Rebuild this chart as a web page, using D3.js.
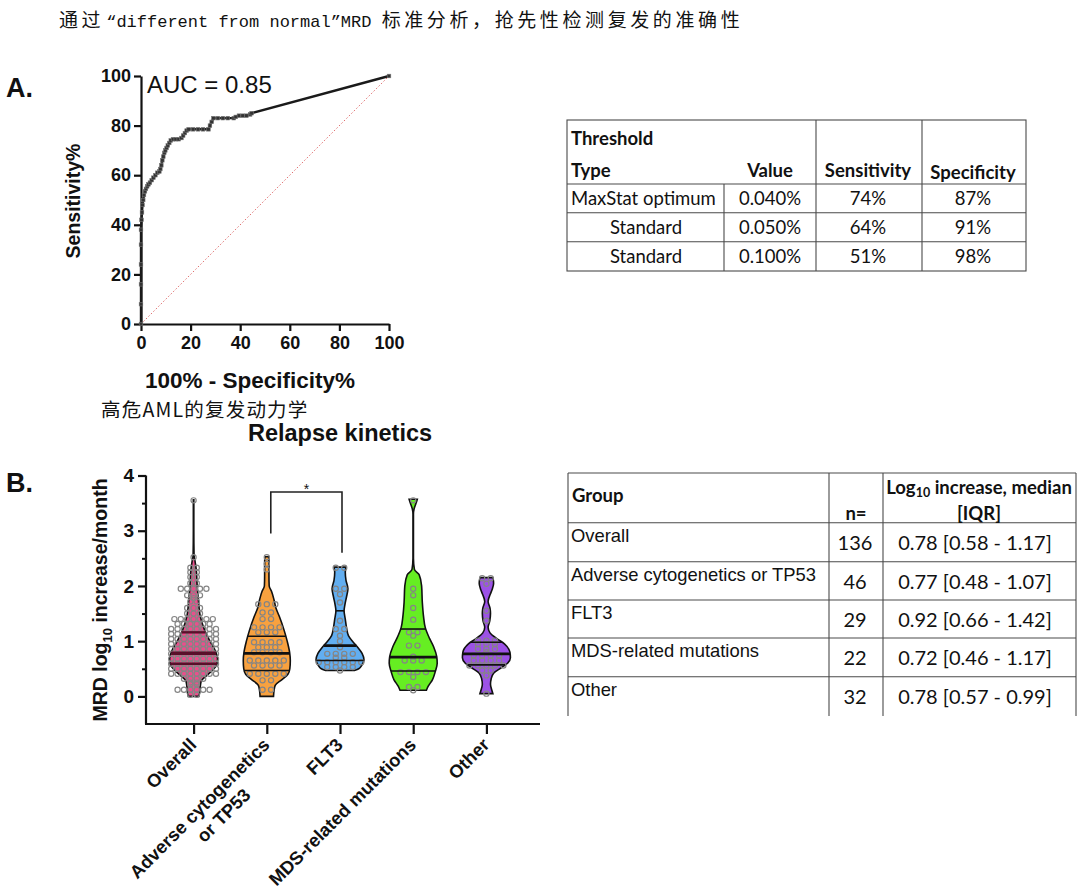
<!DOCTYPE html>
<html><head><meta charset="utf-8">
<script src="https://cdn.jsdelivr.net/npm/d3@7"></script>
<style>body{margin:0;background:#fff}svg{display:block}</style>
</head><body>
<svg id="c" width="1080" height="895"></svg>
<script>
// ---------------- DATA ----------------
const titleParts = ["通过","“different from normal”MRD ","标准分析，抢先性检测复发的准确性"];
const subtitleB = "高危AML的复发动力学";
const chartTitleB = "Relapse kinetics";

// ROC curve (x = 100% - Specificity%, y = Sensitivity%)
const rocFPR = [0,0,0,0,0,0,0.2,0.4,0.6,0.9,1.2,1.6,2.0,2.5,3.0,3.6,4.3,5.0,5.8,6.6,7.4,7.8,8.2,8.6,9.0,9.4,9.8,10.3,10.8,11.4,12.0,12.9,14.0,15.2,16.3,17.0,17.7,18.4,19.2,21,23,25,27.2,27.8,28.5,29.2,31,33,35,37.4,38.2,39.5,41,42.5,44,44.6,100];
const rocTPR = [0,8,16,24,32,38,42,45,48,50,52,53.5,54.5,55.5,56.3,57,58,59,60,61,61.5,62.5,64,66,67.5,69,70,71,72,73,74,74.5,74.5,74.5,75,76,77,78,78.5,78.5,78.5,78.5,78.5,80,81.5,83,83,83,83,83,83.5,84,84,84,84.5,85,100];
const rocTicks = [0,20,40,60,80,100];
const aucLabel = "AUC = 0.85";

// Table A
const tableAHead = ["Value","Sensitivity","Specificity"];
const tableAType = ["MaxStat optimum","Standard","Standard"];
const tableAValue = ["0.040%","0.050%","0.100%"];
const tableASens = ["74%","64%","51%"];
const tableASpec = ["87%","91%","98%"];

// Violin plot
const groups = ["Overall","Adverse","FLT3","MDS","Other"];
const groupLabels = ["Overall","Adverse cytogenetics\nor TP53","FLT3","MDS-related mutations","Other"];
const violinTicks = [0,1,2,3,4];
const violinMinor = [0.5,1.5,2.5,3.5];
// density profiles: [value, relative density]
const profOverall = [[3.56,0.01],[3.0,0.01],[2.55,0.02],[2.45,0.06],[2.3,0.11],[2.0,0.15],[1.75,0.2],[1.45,0.28],[1.2,0.46],[1.0,0.68],[0.83,0.9],[0.68,1.0],[0.58,0.97],[0.47,0.78],[0.38,0.55],[0.28,0.32],[0.18,0.28],[0.08,0.26],[0.0,0.22]];
const profAdverse = [[2.53,0.08],[2.4,0.09],[2.2,0.09],[2.0,0.1],[1.9,0.2],[1.75,0.3],[1.6,0.38],[1.45,0.52],[1.2,0.72],[1.0,0.85],[0.8,0.95],[0.65,0.98],[0.5,0.96],[0.4,0.88],[0.3,0.62],[0.2,0.35],[0.1,0.3],[0.0,0.28]];
const profFLT3 = [[2.34,0.25],[2.25,0.22],[2.1,0.25],[1.95,0.33],[1.8,0.27],[1.65,0.2],[1.55,0.17],[1.4,0.22],[1.25,0.27],[1.1,0.35],[1.0,0.52],[0.9,0.72],[0.78,0.92],[0.66,1.0],[0.56,0.9],[0.5,0.78],[0.47,0.6]];
const profMDS = [[3.57,0.17],[3.5,0.12],[3.4,0.04],[3.3,0.01],[2.5,0.01],[2.3,0.05],[2.2,0.25],[2.0,0.35],[1.7,0.38],[1.45,0.43],[1.25,0.5],[1.05,0.68],[0.9,0.85],[0.72,0.98],[0.6,1.0],[0.45,0.92],[0.3,0.8],[0.18,0.62],[0.11,0.55]];
const profOther = [[2.15,0.27],[2.05,0.3],[1.95,0.25],[1.85,0.16],[1.72,0.07],[1.6,0.15],[1.5,0.17],[1.37,0.14],[1.25,0.07],[1.15,0.15],[1.05,0.42],[0.95,0.75],[0.8,0.98],[0.7,1.0],[0.6,0.88],[0.5,0.55],[0.42,0.3],[0.32,0.2],[0.22,0.17],[0.12,0.22],[0.05,0.27]];
// individual values (value, count)
const ptsOverall = [[3.55,1],[2.52,1],[2.33,2],[2.25,2],[2.16,2],[2.05,2],[1.95,5],[1.83,3],[1.78,1],[1.72,2],[1.6,3],[1.5,3],[1.4,7],[1.31,6],[1.22,8],[1.13,8],[1.04,8],[0.95,8],[0.86,8],[0.77,8],[0.68,8],[0.59,8],[0.5,8],[0.41,8],[0.32,4],[0.25,2],[0.22,2],[0.12,6],[0.03,2]];
const ptsAdverse = [[2.52,1],[2.4,1],[2.3,1],[1.67,3],[1.52,2],[1.4,2],[1.25,4],[1.16,3],[0.98,4],[0.89,3],[0.8,4],[0.65,5],[0.56,4],[0.41,5],[0.29,2],[0.12,2]];
const ptsFLT3 = [[2.33,2],[1.95,2],[1.85,1],[1.7,1],[1.37,1],[1.22,2],[1.1,1],[1.0,1],[0.89,1],[0.77,4],[0.7,2],[0.62,6],[0.53,4],[0.47,1]];
const ptsMDS = [[3.55,1],[1.95,1],[1.83,1],[1.6,1],[1.39,1],[1.16,2],[1.1,1],[0.92,2],[0.72,1],[0.65,3],[0.44,4],[0.35,1],[0.17,2],[0.11,1]];
const ptsOther = [[2.14,2],[2.04,1],[1.55,1],[1.37,1],[1.01,3],[0.95,3],[0.86,3],[0.8,1],[0.74,4],[0.65,4],[0.56,5],[0.47,2],[0.38,1],[0.05,1]];
const q1Vals = [0.59,0.47,0.65,0.46,0.57];
const medianVals = [0.78,0.78,0.92,0.71,0.77];
const q3Vals = [1.16,1.09,1.55,1.22,0.98];
const sigLabel = "*";

// Table B
const tableBGroups = ["Overall","Adverse cytogenetics or TP53","FLT3","MDS-related mutations","Other"];
const tableBN = ["136","46","29","22","32"];
const tableBVals = ["0.78 [0.58 - 1.17]","0.77 [0.48 - 1.07]","0.92 [0.66 - 1.42]","0.72 [0.46 - 1.17]","0.78 [0.57 - 0.99]"];

// ---------------- DRAW ----------------
const svg = d3.select("#c");
const AR = "'Liberation Sans', Arial, sans-serif";
const CAL = "Lato, 'Open Sans', sans-serif";
const CJK = "'Noto Sans CJK SC', sans-serif";
const INK = "#111";

const title = svg.append("text").attr("x",59).attr("y",27).attr("fill",INK);
titleParts.forEach((p,i)=>{
  const ts = title.append("tspan").text(p);
  if(i===1) ts.attr("font-family","'Liberation Mono',monospace").attr("font-size",17).attr("dx",2);
  else ts.attr("font-family",CJK).attr("font-size",19).attr("letter-spacing",3.6);
});

// Panel letters
svg.append("text").attr("x",6).attr("y",97).attr("font-family",AR).attr("font-weight","bold").attr("font-size",27).attr("fill",INK).text("A.");
svg.append("text").attr("x",6).attr("y",492).attr("font-family",AR).attr("font-weight","bold").attr("font-size",27).attr("fill",INK).text("B.");

// ---- ROC ----
const rx = d3.scaleLinear([0,100],[141,389]);
const ry = d3.scaleLinear([0,100],[324,76]);
function styleAxis(g, fs){
  g.select(".domain").attr("stroke",INK).attr("stroke-width",2.2);
  g.selectAll(".tick line").attr("stroke",INK).attr("stroke-width",2.2);
  g.selectAll(".tick text").attr("font-family",AR).attr("font-weight","bold").attr("font-size",fs).attr("fill",INK);
}
const gxA = svg.append("g").attr("transform","translate(0,324)")
  .call(d3.axisBottom(rx).tickValues(rocTicks).tickSize(7).tickSizeOuter(0).tickPadding(5));
styleAxis(gxA,18);
const gyA = svg.append("g").attr("transform","translate(141,0)")
  .call(d3.axisLeft(ry).tickValues(rocTicks).tickSize(7).tickSizeOuter(0).tickPadding(3));
styleAxis(gyA,18);

svg.append("line").attr("x1",rx(0)).attr("y1",ry(0)).attr("x2",rx(100)).attr("y2",ry(100))
  .attr("stroke","#e07070").attr("stroke-width",1).attr("stroke-dasharray","1.5,2");
const rocPts = rocFPR.map((v,i)=>[v,rocTPR[i]]);
svg.append("path").datum(rocPts)
  .attr("d",d3.line().x(d=>rx(d[0])).y(d=>ry(d[1])))
  .attr("fill","none").attr("stroke","#1a1a1a").attr("stroke-width",2.4);
svg.append("g").selectAll("rect").data(rocPts).join("rect")
  .attr("x",d=>rx(d[0])-1.8).attr("y",d=>ry(d[1])-1.8).attr("width",3.6).attr("height",3.6)
  .attr("fill","#333").attr("stroke","#777").attr("stroke-width",0.6);

svg.append("text").attr("x",147).attr("y",93).attr("font-family",AR).attr("font-size",24).attr("fill",INK).text(aucLabel);
svg.append("text").attr("transform","translate(80,201) rotate(-90)").attr("text-anchor","middle")
  .attr("font-family",AR).attr("font-weight","bold").attr("font-size",19.5).attr("fill",INK).text("Sensitivity%");
svg.append("text").attr("x",250).attr("y",388).attr("text-anchor","middle")
  .attr("font-family",AR).attr("font-weight","bold").attr("font-size",22.5).attr("fill",INK).text("100% - Specificity%");

// ---- Table A ----
const TA = {l:567,r:1026,t:120,b:271};
const ta = svg.append("g").attr("stroke","#4a4a4a").attr("stroke-width",1.1);
ta.append("rect").attr("x",TA.l).attr("y",TA.t).attr("width",TA.r-TA.l).attr("height",TA.b-TA.t).attr("fill","none");
[184,212.7,241.7].forEach(y=>ta.append("line").attr("x1",TA.l).attr("x2",TA.r).attr("y1",y).attr("y2",y));
ta.append("line").attr("x1",724).attr("x2",724).attr("y1",184).attr("y2",TA.b);
[816,922].forEach(x=>ta.append("line").attr("x1",x).attr("x2",x).attr("y1",TA.t).attr("y2",TA.b));
const tA = svg.append("g").attr("font-family",CAL).attr("font-size",18.5).attr("fill",INK);
tA.append("text").attr("x",571).attr("y",145).attr("font-weight","bold").text("Threshold");
tA.append("text").attr("x",571).attr("y",177).attr("font-weight","bold").text("Type");
const colAx = [770,868,973];
tableAHead.forEach((h,i)=>tA.append("text").attr("x",colAx[i]).attr("y",i===2?179:177).attr("text-anchor","middle").attr("font-weight","bold").text(h));
const rowAy = [205,234,263];
tableAType.forEach((t,i)=>{
  if(i===0) tA.append("text").attr("x",571).attr("y",rowAy[i]).text(t);
  else tA.append("text").attr("x",646).attr("y",rowAy[i]).attr("text-anchor","middle").text(t);
  tA.append("text").attr("x",colAx[0]).attr("y",rowAy[i]).attr("text-anchor","middle").text(tableAValue[i]);
  tA.append("text").attr("x",colAx[1]).attr("y",rowAy[i]).attr("text-anchor","middle").text(tableASens[i]);
  tA.append("text").attr("x",colAx[2]).attr("y",rowAy[i]).attr("text-anchor","middle").text(tableASpec[i]);
});

// ---- Panel B titles ----
svg.append("text").attr("x",101).attr("y",417).attr("font-family",CJK).attr("font-size",19.5).attr("letter-spacing",1.2).attr("fill",INK).text(subtitleB);
svg.append("text").attr("x",340).attr("y",441).attr("text-anchor","middle").attr("font-family",AR).attr("font-weight","bold").attr("font-size",23.5).attr("fill",INK).text(chartTitleB);

// ---- Violin plot ----
const vy = d3.scaleLinear([-0.5,4],[724,475.5]);
const vx = d3.scalePoint(groups,[146,534]).padding(0.65);
const vw = d3.scaleLinear([0,1],[0,24]);
const profiles = [profOverall,profAdverse,profFLT3,profMDS,profOther];
const points = [ptsOverall,ptsAdverse,ptsFLT3,ptsMDS,ptsOther];
const fills = ["#ea4f8c","#f8a13f","#62aef0","#66ee22","#9c52e6"];
const lineCol = ["#5a0f2a",INK,INK,INK,INK];
const dotSpacing = [6.4,8.5,8.5,8.5,8.5];

const gyB = svg.append("g").attr("transform","translate(146,0)")
  .call(d3.axisLeft(vy).tickValues(violinTicks).tickFormat(d3.format("d")).tickSize(8).tickSizeOuter(0).tickPadding(4));
styleAxis(gyB,19);
gyB.select(".domain").attr("d","M0,724V475.5");
const gyBm = svg.append("g").attr("transform","translate(146,0)")
  .call(d3.axisLeft(vy).tickValues(violinMinor).tickSize(4).tickFormat(""));
gyBm.select(".domain").remove();
gyBm.selectAll(".tick line").attr("stroke",INK).attr("stroke-width",2);
const gxB = svg.append("g").attr("transform","translate(0,724)")
  .call(d3.axisBottom(vx).tickSize(10).tickSizeOuter(0).tickFormat(""));
styleAxis(gxB,18);
gxB.select(".domain").attr("d","M145,0H540");

function widthAt(prof, v){
  for(let i=0;i<prof.length-1;i++){
    const a=prof[i], b=prof[i+1];
    if(v<=a[0] && v>=b[0]){ const t=(a[0]-v)/(a[0]-b[0]); return a[1]+(b[1]-a[1])*t; }
  }
  return 0;
}
const area = d3.area().curve(d3.curveMonotoneY);
groups.forEach((g,i)=>{
  const cx = vx(g);
  const prof = profiles[i];
  svg.append("path").datum(prof)
    .attr("d",area.y(d=>vy(d[0])).x0(d=>cx-vw(d[1])).x1(d=>cx+vw(d[1])))
    .attr("fill",fills[i]).attr("stroke",INK).attr("stroke-width",1.6);
  const dots=[];
  points[i].forEach(([v,n])=>{ for(let k=0;k<n;k++) dots.push([v,(k-(n-1)/2)*dotSpacing[i]]); });
  svg.append("g").selectAll("circle").data(dots).join("circle")
    .attr("cx",d=>cx+d[1]).attr("cy",d=>vy(d[0])).attr("r",2.6)
    .attr("fill","none").attr("stroke","#858585").attr("stroke-width",1.2);
  [[q1Vals[i],1.6],[medianVals[i],2.8],[q3Vals[i],1.6]].forEach(([v,sw])=>{
    const hw = vw(widthAt(prof,v));
    svg.append("line").attr("x1",cx-hw).attr("x2",cx+hw).attr("y1",vy(v)).attr("y2",vy(v))
      .attr("stroke",lineCol[i]).attr("stroke-width",i===0?sw+0.8:sw);
  });
});
// significance bracket
const bx1 = vx("Adverse")+4, bx2 = vx("FLT3")+2;
svg.append("path").attr("d",`M${bx1},${vy(2.95)}V${vy(3.7)}H${bx2}V${vy(2.6)}`)
  .attr("fill","none").attr("stroke","#222").attr("stroke-width",1.6);
svg.append("text").attr("x",(bx1+bx2)/2).attr("y",vy(3.8)+7).attr("text-anchor","middle")
  .attr("font-family",AR).attr("font-size",14).attr("fill",INK).text(sigLabel);

// category labels
groupLabels.forEach((lab,i)=>{
  const lines = lab.split("\n");
  const gg = svg.append("g").attr("transform",`translate(${vx(groups[i])+4},746) rotate(-45)`)
    .attr("font-family",AR).attr("font-weight","bold").attr("font-size",18.3).attr("fill",INK);
  const t1 = gg.append("text").attr("text-anchor","end").text(lines[0]);
  if(lines[1]){
    const w1 = t1.node().getComputedTextLength();
    gg.append("text").attr("x",-w1/2+12).attr("y",22).attr("text-anchor","middle").text(lines[1]);
  }
});
svg.append("text").attr("transform","translate(107,600) rotate(-90)").attr("text-anchor","middle")
  .attr("font-family",AR).attr("font-weight","bold").attr("font-size",19.5).attr("fill",INK)
  .call(t=>{
    t.append("tspan").text("MRD log");
    t.append("tspan").attr("font-size",13).attr("dy",5).text("10");
    t.append("tspan").attr("dy",-5).text(" increase/month");
  });

// ---- Table B ----
const TB = {l:568,r:1076,t:473,b:716};
const rowB = [522.7,561.7,600,638,676.7];
const tb = svg.append("g").attr("stroke","#4a4a4a").attr("stroke-width",1.1);
[TB.t,...rowB].forEach(y=>tb.append("line").attr("x1",TB.l).attr("x2",TB.r).attr("y1",y).attr("y2",y));
[TB.l,829,883,TB.r].forEach(x=>tb.append("line").attr("x1",x).attr("x2",x).attr("y1",TB.t).attr("y2",TB.b));
const tB = svg.append("g").attr("fill",INK);
tB.append("text").attr("x",572).attr("y",502).attr("font-family",CAL).attr("font-weight","bold").attr("font-size",18.5).text("Group");
tB.append("text").attr("x",856).attr("y",520).attr("text-anchor","middle").attr("font-family",CAL).attr("font-weight","bold").attr("font-size",18.5).text("n=");
tB.append("text").attr("x",979).attr("y",494).attr("text-anchor","middle").attr("font-family",CAL).attr("font-weight","bold").attr("font-size",18.5)
  .call(t=>{
    t.append("tspan").text("Log");
    t.append("tspan").attr("font-size",12.5).attr("dy",3).text("10");
    t.append("tspan").attr("dy",-3).text(" increase, median");
  });
tB.append("text").attr("x",979).attr("y",520).attr("text-anchor","middle").attr("font-family",CAL).attr("font-weight","bold").attr("font-size",18.5).text("[IQR]");
tableBGroups.forEach((g,i)=>{
  const top = rowB[i];
  tB.append("text").attr("x",571).attr("y",top+19).attr("font-family",AR).attr("font-size",18.4).text(g);
  tB.append("text").attr("x",855).attr("y",top+27).attr("text-anchor","middle").attr("font-family",CAL).attr("font-size",20).text(tableBN[i]);
  tB.append("text").attr("x",975).attr("y",top+27).attr("text-anchor","middle").attr("font-family",CAL).attr("font-size",20).text(tableBVals[i]);
});
</script>
</body></html>
